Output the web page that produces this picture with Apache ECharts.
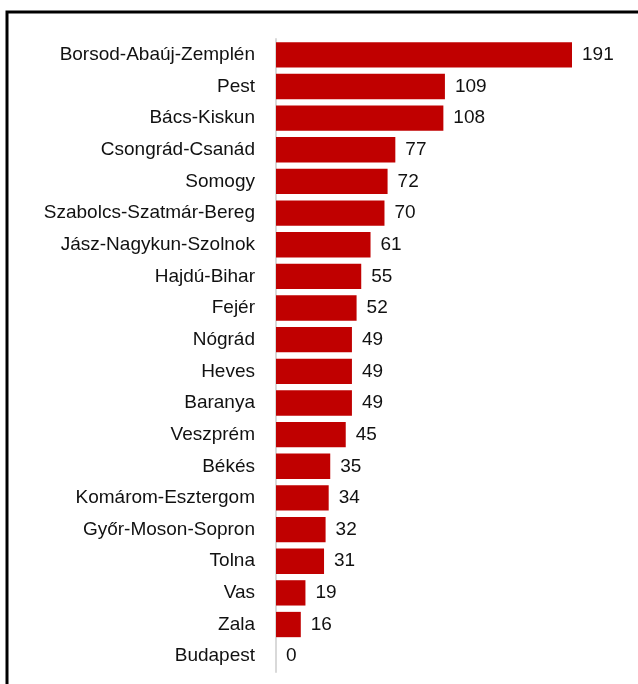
<!DOCTYPE html>
<html>
<head>
<meta charset="utf-8">
<script src="https://cdn.jsdelivr.net/npm/echarts@6/dist/echarts.min.js"></script>
<style>
  html, body { margin: 0; padding: 0; background: #ffffff; }
  #chart { width: 638px; height: 684px; }
</style>
</head>
<body>
<div id="chart"></div>
<script>
// Counties, listed top to bottom
const counties = [
  'Borsod-Abaúj-Zemplén', 'Pest', 'Bács-Kiskun', 'Csongrád-Csanád', 'Somogy',
  'Szabolcs-Szatmár-Bereg', 'Jász-Nagykun-Szolnok', 'Hajdú-Bihar', 'Fejér', 'Nógrád',
  'Heves', 'Baranya', 'Veszprém', 'Békés', 'Komárom-Esztergom',
  'Győr-Moson-Sopron', 'Tolna', 'Vas', 'Zala', 'Budapest'
];
const counts = [191, 109, 108, 77, 72, 70, 61, 55, 52, 49, 49, 49, 45, 35, 34, 32, 31, 19, 16, 0];

const chart = echarts.init(document.getElementById('chart'));
const font = 'Liberation Sans, Arial, sans-serif';

chart.setOption({
  animation: false,
  backgroundColor: '#ffffff',
  grid: { left: 276, right: 66, top: 39, bottom: 12, containLabel: false },
  xAxis: {
    type: 'value',
    min: 0,
    max: 191,
    show: false
  },
  yAxis: {
    type: 'category',
    inverse: true,
    data: counties,
    axisLine: { show: true, lineStyle: { color: '#d9d9d9', width: 2 } },
    axisTick: { show: false },
    axisLabel: { color: '#111111', fontFamily: font, fontSize: 19, margin: 21 }
  },
  series: [{
    type: 'bar',
    data: counts,
    barCategoryGap: '20%',
    itemStyle: { color: '#c00000' },
    label: {
      show: true,
      position: 'right',
      distance: 10,
      color: '#111111',
      fontFamily: font,
      fontSize: 19
    }
  }],
  graphic: [{
    type: 'polyline',
    shape: { points: [[7, 684], [7, 12], [638, 12]] },
    style: { stroke: '#000000', lineWidth: 3, fill: null }
  }]
});
</script>
</body>
</html>
